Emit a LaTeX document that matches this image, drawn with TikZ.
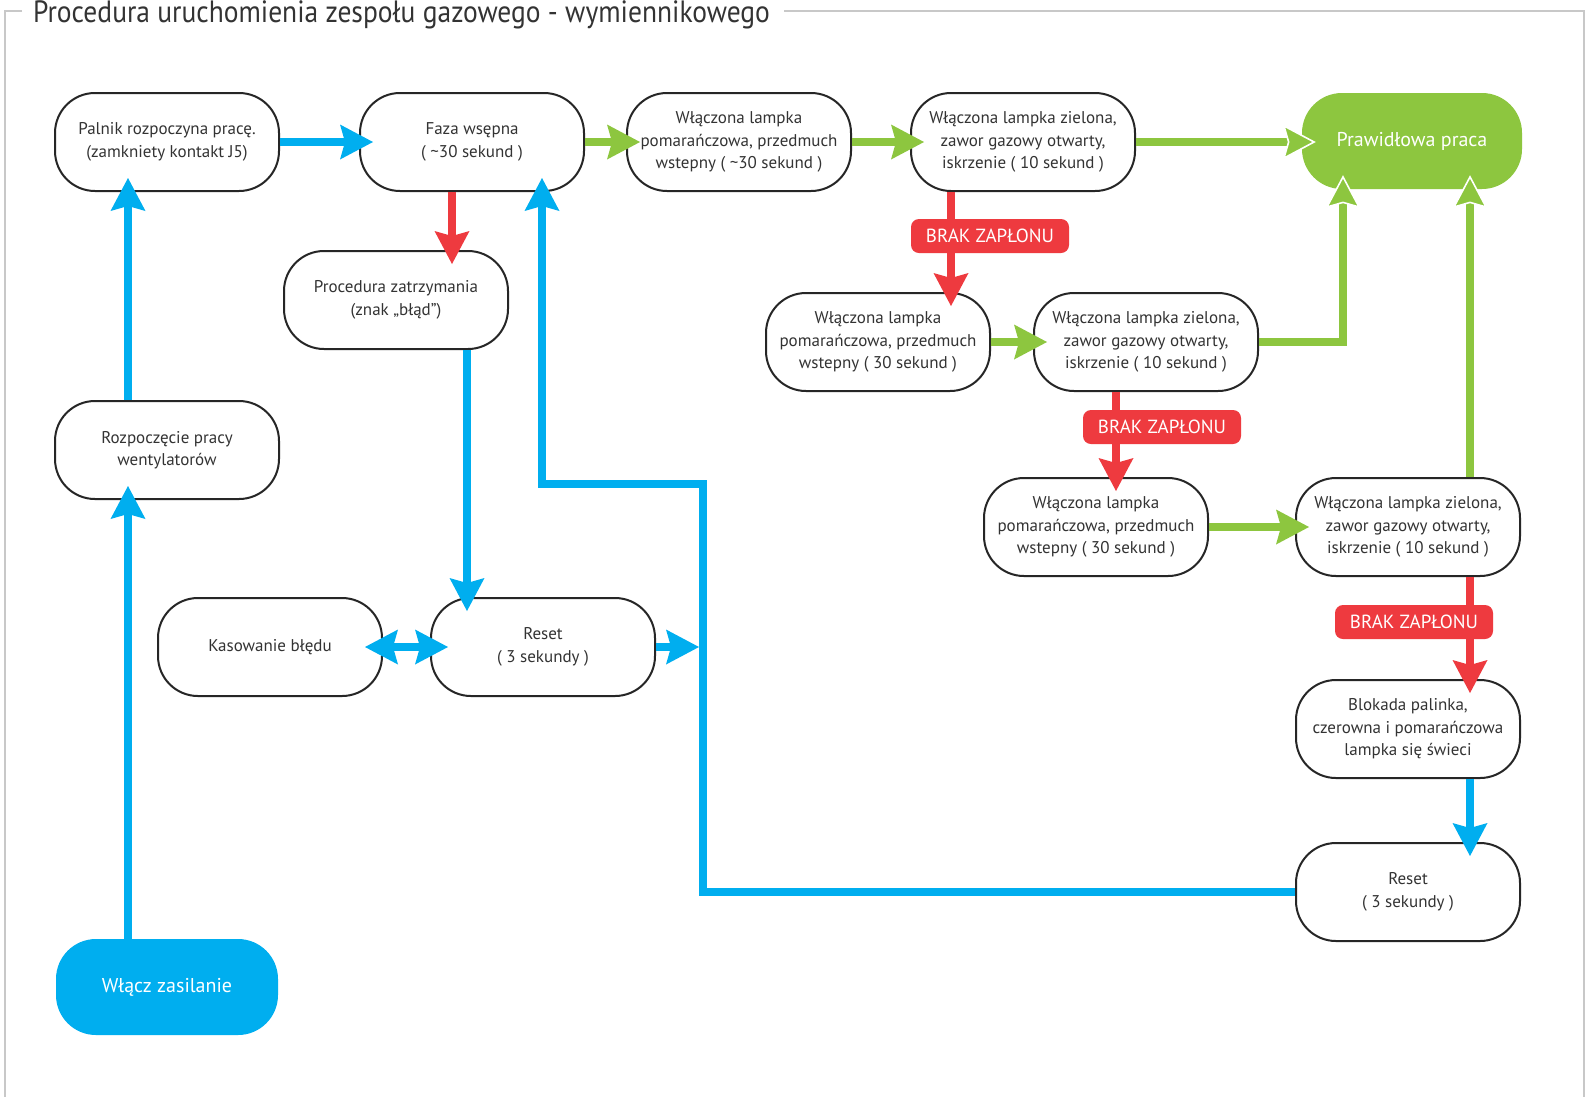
\documentclass[tikz,border=0pt]{standalone}
\usepackage{fontspec}
\usepackage{graphicx}
\setmainfont{PT Sans}
\usetikzlibrary{arrows.meta,calc}
\definecolor{cblue}{HTML}{00AEEF}
\definecolor{cgreen}{HTML}{8DC63F}
\definecolor{cred}{HTML}{EE3A3F}
\definecolor{ctext}{HTML}{333333}
\definecolor{cframe}{HTML}{C8C8C8}
\begin{document}
\begin{tikzpicture}[x=1pt,y=-1pt,
  box/.style={draw=black!85, line width=2pt, fill=white, rounded corners=40pt,
    minimum width=224pt, minimum height=98pt, align=center, text=ctext,
    font=\fontsize{17}{22.5}\selectfont, inner sep=0pt},
  bigbox/.style={rounded corners=40pt, minimum width=220pt, minimum height=96pt,
    text=white, font=\fontsize{20}{24}\selectfont, inner sep=0pt},
  brak/.style={fill=cred, text=white, rounded corners=8pt, minimum width=158pt,
    minimum height=34pt, inner sep=0pt, font=\fontsize{19}{22}\selectfont},
  conn/.style={line width=8pt, -{Stealth[length=33pt,width=35pt,inset=5pt,line width=0pt]}, shorten >=-14pt},
  connE/.style={line width=8pt, -{Stealth[length=33pt,width=35pt,inset=5pt,line width=1.6pt,color=white,fill=cgreen]}, shorten >=-14pt},
  bconn/.style={conn, color=cblue},
  gconn/.style={conn, color=cgreen},
  rconn/.style={conn, color=cred},
  frame/.style={draw=cframe, line width=2pt}
]
\useasboundingbox (0,0) rectangle (1587,1096);
\fill[white] (0,0) rectangle (1587,1096);

% title and frame
\node[anchor=base west, inner sep=0pt, text=ctext, font=\fontsize{27.5}{30}\selectfont] (title) at (33,22)
  {\scalebox{1}[1.12]{Procedura uruchomienia zespołu gazowego - wymiennikowego}};
\draw[frame] (22,11) -- (5,11) -- (5,1110);
\draw[frame] (784,11) -- (1584,11) -- (1584,1110);

% nodes
\node[box] (A) at (167,142) {Palnik rozpoczyna pracę.\\(zamkniety kontakt J5)};
\node[box] (B) at (472,142) {Faza wsępna\\( \textasciitilde30 sekund )};
\node[box] (C) at (739,142) {Włączona lampka\\pomarańczowa, przedmuch\\wstepny ( \textasciitilde30 sekund )};
\node[box] (D) at (1023,142) {Włączona lampka zielona,\\zawor gazowy otwarty,\\iskrzenie ( 10 sekund )};
\node[bigbox, fill=cgreen] (E) at (1412,141) {Prawidłowa praca};
\node[box] (F) at (396,300) {Procedura zatrzymania\\(znak „błąd”)};
\node[box] (G) at (167,450) {Rozpoczęcie pracy\\wentylatorów};
\node[box] (H) at (878,342) {Włączona lampka\\pomarańczowa, przedmuch\\wstepny ( 30 sekund )};
\node[box] (I) at (1146,342) {Włączona lampka zielona,\\zawor gazowy otwarty,\\iskrzenie ( 10 sekund )};
\node[box] (J) at (1096,527) {Włączona lampka\\pomarańczowa, przedmuch\\wstepny ( 30 sekund )};
\node[box] (K) at (1408,527) {Włączona lampka zielona,\\zawor gazowy otwarty,\\iskrzenie ( 10 sekund )};
\node[box] (L) at (270,647) {Kasowanie błędu};
\node[box] (M) at (543,647) {Reset\\( 3 sekundy )};
\node[box] (N) at (1408,729) {Blokada palinka,\\czerowna i pomarańczowa\\lampka się świeci};
\node[box] (O) at (1408,892) {Reset\\( 3 sekundy )};
\node[bigbox, fill=cblue, minimum width=222pt] (P) at (167,987) {Włącz zasilanie};

% helper coordinates
\coordinate (bf) at ($(B.south)+(-20,0)$);
\coordinate (dh) at ($(D.south)+(-72,0)$);
\coordinate (ij) at ($(I.south)+(-30,0)$);
\coordinate (kn) at ($(K.south)+(62,0)$);
\coordinate (ke) at ($(K.north)+(62,0)$);
\coordinate (ie) at ($(E.south)+(-69,0)$);
\coordinate (no) at ($(N.south)+(62,0)$);
\coordinate (fm) at ($(F.south)+(71,0)$);
\coordinate (ga) at ($(G.north)+(-39,0)$);
\coordinate (pg) at ($(P.north)+(-39,0)$);
\coordinate (j1) at (703,484);
\coordinate (j2) at ($(B.south)+(70,0)$);

% connectors
\draw[bconn] (A.east) -- (B.west);
\draw[gconn] (B.east) -- (C.west);
\draw[gconn] (C.east) -- (D.west);
\draw[connE, color=cgreen] (D.east) -- (D.east -| E.west);
\draw[rconn] (bf) -- (bf |- F.north);
\draw[rconn] (dh) -- (dh |- H.north);
\draw[gconn] (H.east) -- (I.west);
\draw[connE, color=cgreen] (I.east) -| (ie);
\draw[rconn] (ij) -- (ij |- J.north);
\draw[gconn] (J.east) -- (K.west);
\draw[connE, color=cgreen] (ke) -- (ke |- E.south);
\draw[rconn] (kn) -- (kn |- N.north);
\draw[bconn] (no) -- (no |- O.north);
\draw[bconn] (O.west) -| (j1) -- (j1 -| j2) -- (j2);
\draw[bconn, shorten >=4pt] (M.east) -- (M.east -| j1);
\draw[line width=8pt, color=cblue, {Stealth[length=33pt,width=35pt,inset=5pt,line width=0pt]}-{Stealth[length=33pt,width=35pt,inset=5pt,line width=0pt]}, shorten <=-18pt, shorten >=-18pt] (L.east) -- (M.west);
\draw[bconn] (fm) -- (fm |- M.north);
\draw[bconn] (ga) -- (ga |- A.south);
\draw[bconn] (pg) -- (pg |- G.south);

% labels
\node[brak] (L1) at (990,236) {BRAK ZAPŁONU};
\node[brak] (L2) at (1162,427) {BRAK ZAPŁONU};
\node[brak] (L3) at (1414,622) {BRAK ZAPŁONU};
\end{tikzpicture}
\end{document}
